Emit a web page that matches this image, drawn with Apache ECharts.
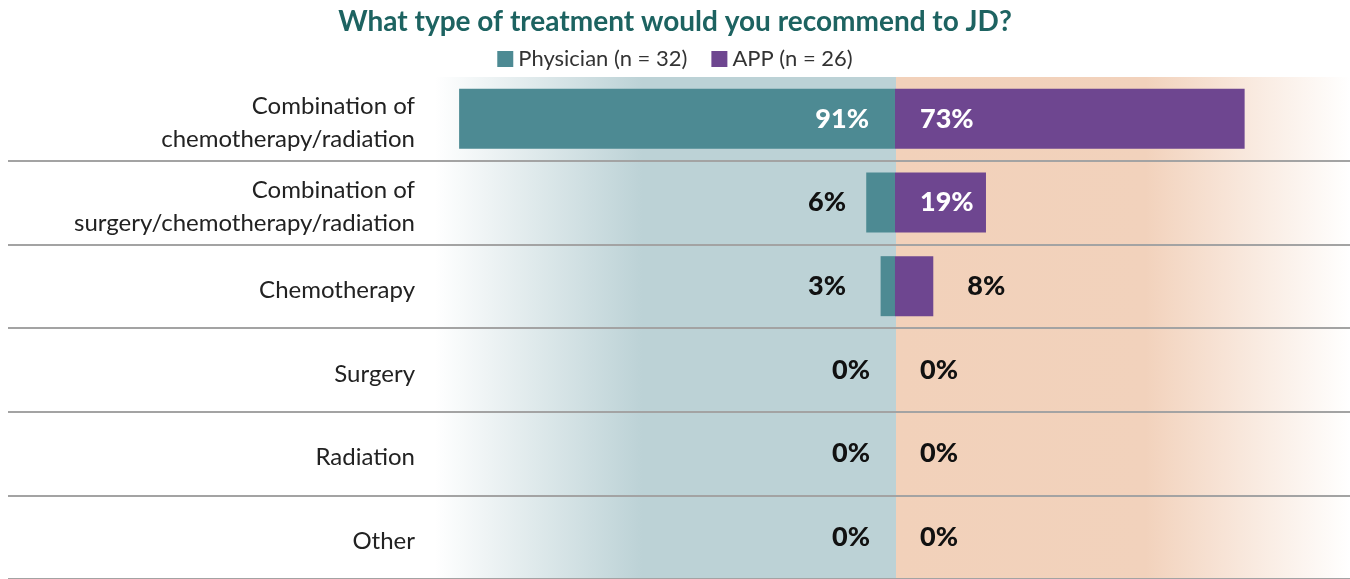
<!DOCTYPE html>
<html>
<head>
    <meta charset="utf-8">
    <title>Treatment recommendation</title>
    <script src="https://cdn.jsdelivr.net/npm/echarts@6/dist/echarts.min.js"></script>
    <style>
        html, body { margin:0; padding:0; background:#fff; }
        #main { width:1350px; height:579px; }
    </style>
</head>
<body>
    <div id="main"></div>

    <script type="text/javascript">
    var categories = [
        'Combination of\nchemotherapy/radiation',
        'Combination of\nsurgery/chemotherapy/radiation',
        'Chemotherapy',
        'Surgery',
        'Radiation',
        'Other'
    ];
    var physician = [91, 6, 3, 0, 0, 0];
    var app = [73, 19, 8, 0, 0, 0];

    var seriesNames = ['Physician (n = 32)', 'APP (n = 26)'];
    var colors = ['#4d8a93', '#6e4690'];

    // x scale: -100 .. 95 over 936px
    var gridLeft = 416, gridWidth = 936, xMin = -100, xMax = 95;
    var pxPerUnit = gridWidth / (xMax - xMin);

    var labelFont = { fontFamily: 'Lato', fontWeight: 900, fontSize: 27 };

    var physLabel = function (v) {
        if (v >= 15) return Object.assign({ show: true, position: 'insideRight', distance: 26, color: '#fff' }, labelFont);
        if (v > 0) return Object.assign({ show: true, position: 'left', distance: 49 - v * pxPerUnit, color: '#111' }, labelFont);
        return Object.assign({ show: true, position: 'insideRight', distance: 25, color: '#111' }, labelFont);
    };
    var appLabel = function (v) {
        if (v >= 15) return Object.assign({ show: true, position: 'insideLeft', distance: 25, color: '#fff' }, labelFont);
        if (v > 0) return Object.assign({ show: true, position: 'right', distance: 34, color: '#111' }, labelFont);
        return Object.assign({ show: true, position: 'insideLeft', distance: 25, color: '#111' }, labelFont);
    };

    var chart = echarts.init(document.getElementById('main'));
    chart.setOption({
        animation: false,
        textStyle: { fontFamily: 'Lato' },
        title: {
            text: 'What type of treatment would you recommend to JD?',
            left: 'center',
            top: 3,
            textStyle: { fontFamily: 'Lato', fontWeight: 'bold', fontSize: 28, color: '#1d6361' }
        },
        legend: {
            data: seriesNames,
            top: 43,
            left: 'center',
            icon: 'rect',
            itemWidth: 16,
            itemHeight: 16,
            itemGap: 24,
            textStyle: { fontFamily: 'Lato', fontSize: 22, color: '#333' }
        },
        graphic: [
            {
                type: 'rect', z: -10, silent: true,
                shape: { x: 435, y: 77, width: 461, height: 502 },
                style: {
                    fill: new echarts.graphic.LinearGradient(0, 0, 1, 0, [
                        { offset: 0, color: '#ffffff' },
                        { offset: 0.45, color: '#bcd2d6' },
                        { offset: 1, color: '#bcd2d6' }
                    ])
                }
            },
            {
                type: 'rect', z: -10, silent: true,
                shape: { x: 896, y: 77, width: 454, height: 502 },
                style: {
                    fill: new echarts.graphic.LinearGradient(0, 0, 1, 0, [
                        { offset: 0, color: '#f2d1ba' },
                        { offset: 0.55, color: '#f2d2bc' },
                        { offset: 1, color: '#ffffff' }
                    ])
                }
            }
        ],
        grid: [
            { left: gridLeft, width: gridWidth, top: 77, height: 504 },
            { left: 8, right: 0, top: 77, height: 504 }
        ],
        xAxis: [
            { gridIndex: 0, type: 'value', min: xMin, max: xMax, show: false },
            { gridIndex: 1, type: 'value', min: 0, max: 1, show: false }
        ],
        yAxis: [
            {
                gridIndex: 0,
                type: 'category',
                data: categories,
                inverse: true,
                axisLine: { show: false, onZero: false },
                axisTick: { show: false },
                splitLine: { show: false },
                axisLabel: {
                    margin: 1,
                    align: 'right',
                    // small spacer line on top nudges the text a few px down, like the original
                    formatter: function (v) {
                        return '{s| }\n' + v.split('\n').map(function (l) { return '{t|' + l + '}'; }).join('\n');
                    },
                    rich: {
                        s: { fontSize: 1, lineHeight: 8 },
                        t: { fontFamily: 'Lato', fontSize: 24, lineHeight: 33, color: '#222' }
                    }
                }
            },
            {
                gridIndex: 1,
                type: 'category',
                data: categories,
                inverse: true,
                axisLine: { show: false },
                axisTick: { show: false },
                axisLabel: { show: false },
                splitLine: {
                    show: true,
                    interval: function (i) { return i > 0; },
                    lineStyle: { color: '#a3a3a3', width: 2 }
                }
            }
        ],
        series: [
            {
                name: seriesNames[0],
                type: 'bar',
                xAxisIndex: 0, yAxisIndex: 0,
                barWidth: 60,
                barGap: '-100%',
                itemStyle: { color: colors[0] },
                label: { formatter: function (p) { return Math.abs(p.value) + '%'; } },
                data: physician.map(function (v) { return { value: -v, label: physLabel(v) }; })
            },
            {
                name: seriesNames[1],
                type: 'bar',
                xAxisIndex: 0, yAxisIndex: 0,
                barWidth: 60,
                barGap: '-100%',
                itemStyle: { color: colors[1] },
                label: { formatter: function (p) { return p.value + '%'; } },
                data: app.map(function (v) { return { value: v, label: appLabel(v) }; })
            }
        ]
    });
    </script>
</body>
</html>
